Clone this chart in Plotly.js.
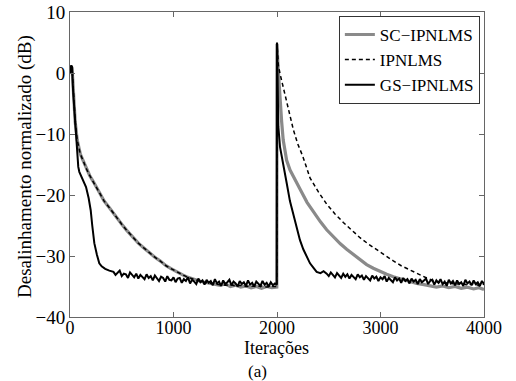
<!DOCTYPE html>
<html>
<head>
<meta charset="utf-8">
<script src="https://cdn.plot.ly/plotly-3.0.1.min.js"></script>
<style>html,body{margin:0;padding:0;background:#fff}#chart{width:516px;height:381px}</style>
</head>
<body>
<div id="chart"></div>
<script>
// ---- Data ----
const seriesNames = ["SC\u2212IPNLMS", "IPNLMS", "GS\u2212IPNLMS"];

// SC-IPNLMS (gray, thick)
const scIter = [0,10,20,30,50,70,80,100,130,155,190,225,283,330,386,444,500,548,606,660,708,766,820,870,928,980,1031,1089,1140,1191,1250,1300,1353,1400,1450,1500,1550,1600,1650,1700,1750,1800,1850,1900,1950,1998,
  2000,2010,2029,2045,2060,2077,2093,2126,2158,2222,2290,2351,2420,2480,2550,2612,2673,2740,2802,2866,2930,2990,3060,3124,3200,3285,3350,3420,3480,3540,3600,3660,3720,3780,3840,3900,3950,4000];
const scVal = [0,1.2,0.8,-3,-8,-11,-12,-13.3,-14.5,-15.6,-16.8,-17.8,-19.6,-21,-22.2,-23.6,-24.8,-25.8,-26.9,-27.9,-28.6,-29.5,-30.2,-30.8,-31.6,-32.1,-32.6,-33.1,-33.5,-33.8,-34.1,-34.3,-34.5,-34.6,-34.8,-34.6,-35.0,-34.8,-35.1,-34.9,-35.2,-35.0,-35.3,-35.0,-35.2,-35.1,
  4.8,1,-4.4,-8,-11,-13.2,-14.3,-15.9,-17,-19,-21.2,-22.8,-24.4,-25.7,-27,-28,-28.9,-29.8,-30.6,-31.4,-32,-32.5,-33,-33.4,-33.8,-34.2,-34.5,-34.7,-34.9,-35.1,-34.9,-35.2,-35.0,-35.3,-35.1,-35.4,-35.2,-35.5];

// IPNLMS (black dashed)
const ipIter = [0,10,20,30,50,70,80,100,130,155,190,225,283,330,386,444,500,548,606,660,708,766,820,870,928,980,1031,1089,1140,1191,1250,1300,1353,1400,1450,1500,1550,1600,1650,1700,1750,1800,1850,1900,1950,1998,
  2000,2013,2029,2060,2093,2126,2158,2200,2250,2319,2400,2480,2560,2641,2720,2802,2880,2963,3040,3124,3200,3285,3360,3446,3520,3607,3660,3720,3780,3840,3900,3960,4000];
const ipVal = [0,1.2,0.8,-3,-8,-11,-12,-13.3,-14.5,-15.6,-16.8,-17.8,-19.6,-21,-22.2,-23.6,-24.8,-25.8,-26.9,-27.9,-28.6,-29.5,-30.2,-30.8,-31.6,-32.1,-32.6,-33.1,-33.5,-33.8,-34.1,-34.3,-34.5,-34.6,-34.7,-34.8,-34.7,-34.9,-34.8,-35.0,-34.9,-35.0,-34.9,-35.1,-35.0,-35.0,
  4.8,1.3,-0.1,-2.3,-4.4,-7,-9.3,-11.6,-13.7,-17.2,-19.5,-21.5,-23.1,-24.5,-25.8,-27,-28,-29,-29.9,-30.8,-31.6,-32.3,-33,-33.6,-34.1,-34.5,-34.3,-34.7,-34.4,-34.8,-34.5,-34.9,-34.6];

// GS-IPNLMS (black solid, noisy)
const gsIter = [0,10,20,30,50,70,80,90,110,130,155,180,200,215,235,260,283,306,340,380,
  420,440,460,480,500,520,540,560,580,600,620,640,660,680,700,720,740,760,780,800,820,840,860,880,900,920,940,960,980,1000,
  1020,1040,1060,1080,1100,1120,1140,1160,1180,1200,1220,1240,1260,1280,1300,1320,1340,1360,1380,1400,1420,1440,1460,1480,1500,
  1520,1540,1560,1580,1600,1620,1640,1660,1680,1700,1720,1740,1760,1780,1800,1820,1840,1860,1880,1900,1920,1940,1960,1980,1998,
  2000,2005,2013,2029,2045,2070,2093,2125,2158,2190,2222,2254,2287,2319,2351,2383,2420,2450,
  2480,2500,2520,2540,2560,2580,2600,2620,2640,2660,2680,2700,2720,2740,2760,2780,2800,2820,2840,2860,2880,2900,2920,2940,2960,2980,
  3000,3020,3040,3060,3080,3100,3120,3140,3160,3180,3200,3220,3240,3260,3280,3300,3320,3340,3360,3380,3400,3420,3440,3460,3480,3500,
  3520,3540,3560,3580,3600,3620,3640,3660,3680,3700,3720,3740,3760,3780,3800,3820,3840,3860,3880,3900,3920,3940,3960,3980,4000];
const gsVal = [0,1.2,1.0,-3,-8,-13,-15.4,-16.2,-17,-17.6,-18.7,-20.5,-22.5,-25,-27.9,-29.8,-31.2,-31.7,-32.1,-32.4,
  -32.6,-33.1,-32.8,-32.4,-33.3,-32.9,-33.0,-33.6,-32.7,-33.2,-33.5,-32.9,-33.7,-33.1,-33.4,-33.8,-33.0,-33.6,-33.3,-34.0,-33.2,-33.7,-34.1,-33.4,-33.6,-34.2,-33.3,-33.9,-34.0,-33.5,
  -34.3,-33.7,-33.6,-34.4,-33.8,-34.1,-33.5,-34.5,-33.9,-34.2,-34.6,-33.7,-34.3,-34.0,-34.7,-33.9,-34.4,-34.1,-34.8,-33.8,-34.5,-34.2,-34.9,-34.0,-34.6,
  -34.3,-33.9,-34.8,-34.2,-34.5,-35.0,-34.1,-34.6,-34.3,-34.9,-34.0,-34.7,-34.4,-35.0,-34.2,-34.6,-34.9,-34.1,-34.7,-34.4,-35.0,-34.3,-34.8,-34.5,-34.7,
  5.0,0,-8.8,-12.1,-13.5,-15.5,-18,-21,-23.3,-25.5,-27.4,-28.9,-30.1,-31.2,-31.9,-32.6,-32.8,-32.5,
  -32.9,-33.3,-32.7,-33.1,-33.5,-32.8,-33.2,-33.6,-32.9,-33.4,-33.0,-33.7,-33.1,-33.4,-33.8,-33.0,-33.5,-33.2,-33.9,-33.3,-33.6,-34.0,-33.2,-33.7,-33.4,-34.1,
  -33.5,-33.8,-33.3,-34.2,-33.6,-33.9,-34.3,-33.5,-34.0,-33.7,-34.4,-33.6,-34.1,-33.8,-34.5,-33.7,-34.2,-33.9,-34.6,-33.8,-34.3,-34.0,-33.7,-34.6,-34.1,-33.9,
  -34.7,-34.0,-34.4,-33.8,-34.6,-34.2,-34.9,-33.9,-34.5,-34.1,-34.8,-34.0,-34.6,-34.3,-34.9,-33.9,-34.5,-34.2,-34.8,-34.0,-34.6,-34.3,-34.9,-34.1,-34.6];

const xTicks = [0,1000,2000,3000,4000];
const yTicks = [-40,-30,-20,-10,0,10];
const xTitle = "Iterações";
const yTitle = "Desalinhamento normalizado (dB)";
const subCaption = "(a)";

// ---- Plot ----
const serif = "Liberation Serif";
const traces = [
  {x: scIter, y: scVal, name: seriesNames[0], mode: "lines", line: {color: "#8a8a8a", width: 3.2}},
  {x: ipIter, y: ipVal, name: seriesNames[1], mode: "lines", line: {color: "#000", width: 1.5, dash: "4px,3px"}},
  {x: gsIter, y: gsVal, name: seriesNames[2], mode: "lines", line: {color: "#000", width: 2}}
];
const axisCommon = {
  showline: true, mirror: "ticks", linecolor: "#666", linewidth: 1,
  ticks: "inside", ticklen: 5, tickcolor: "#666",
  showgrid: false, zeroline: false,
  tickfont: {family: serif, size: 19, color: "#000"}
};
const layout = {
  width: 516, height: 381,
  margin: {l: 70, r: 32, t: 12, b: 64},
  paper_bgcolor: "#fff", plot_bgcolor: "#fff",
  font: {family: serif, color: "#000"},
  showlegend: true,
  legend: {
    x: 0.99, y: 0.987, xanchor: "right", yanchor: "top",
    bgcolor: "#fff", bordercolor: "#333", borderwidth: 1,
    font: {family: serif, size: 17, color: "#000"},
    itemwidth: 30, tracegroupgap: 0
  },
  xaxis: Object.assign({}, axisCommon, {
    range: [0, 4000], tickvals: xTicks, ticktext: xTicks.map(String),
    ticklabelstandoff: -6,
    tickfont: {family: serif, size: 18, color: "#000"}
  }),
  yaxis: Object.assign({}, axisCommon, {
    range: [-40, 10], tickvals: yTicks
  }),
  annotations: [
    {text: xTitle, xref: "paper", yref: "paper", x: 0.4976, y: -0.1016,
     xanchor: "center", yanchor: "middle", showarrow: false, borderpad: 0,
     font: {family: serif, size: 18, color: "#000"}},
    {text: yTitle, xref: "paper", yref: "paper", x: -0.1087, y: 0.495, textangle: -90,
     xanchor: "center", yanchor: "middle", showarrow: false,
     font: {family: serif, size: 19, color: "#000"}},
    {text: subCaption, xref: "paper", yref: "paper", x: 0.454, y: -0.178,
     xanchor: "center", yanchor: "middle", showarrow: false, borderpad: 0,
     font: {family: serif, size: 17, color: "#000"}}
  ]
};
Plotly.newPlot("chart", traces, layout, {displayModeBar: false, staticPlot: true});
</script>
</body>
</html>
